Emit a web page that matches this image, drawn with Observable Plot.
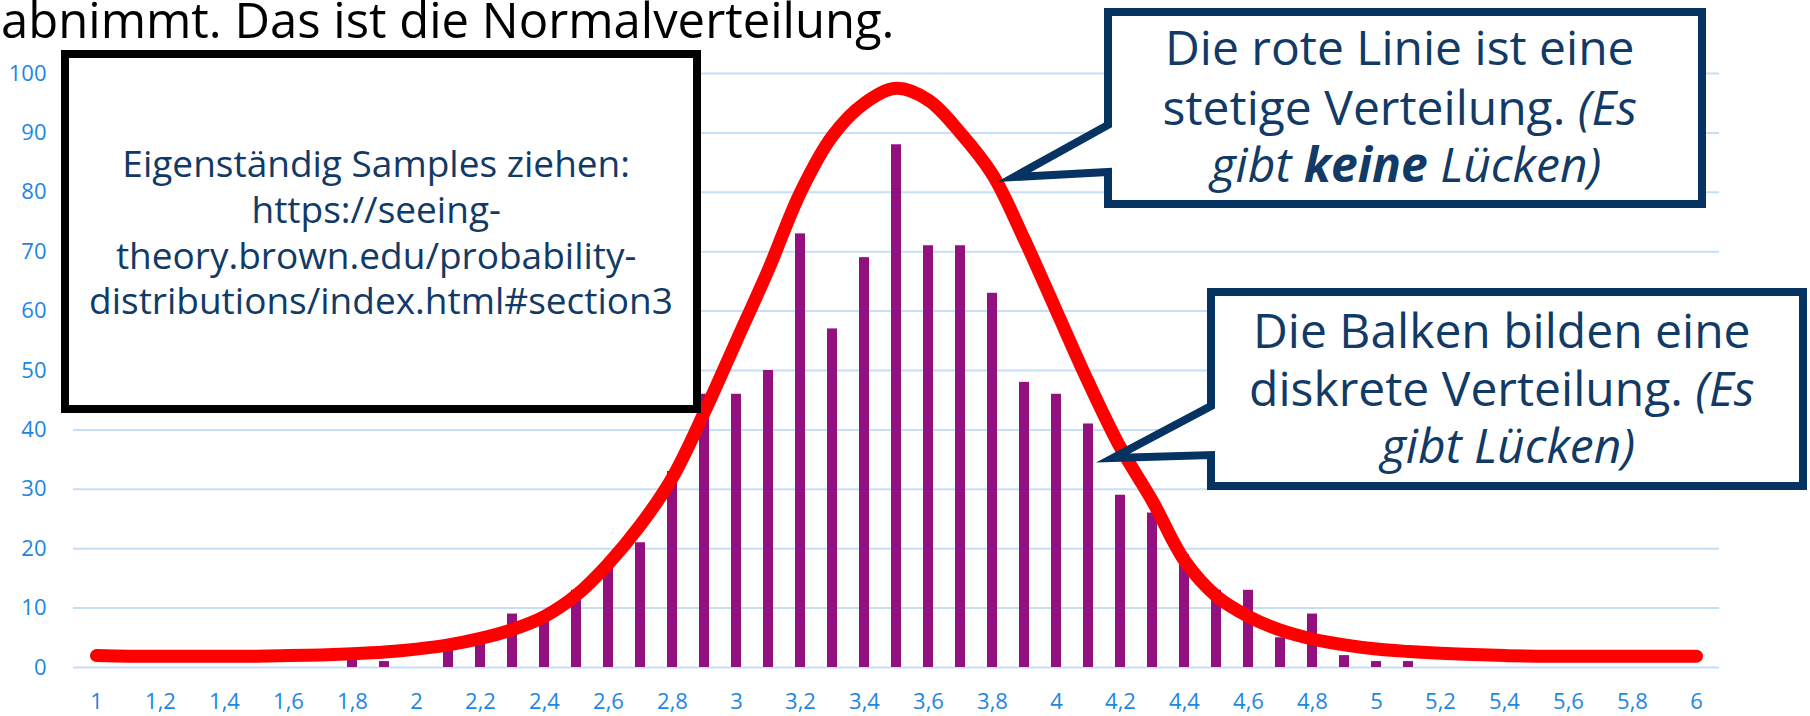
<!DOCTYPE html>
<html>
<head>
<meta charset="utf-8">
<script src="https://cdn.jsdelivr.net/npm/d3@7"></script>
<script src="https://cdn.jsdelivr.net/npm/@observablehq/plot@0.6"></script>
<style>
  html, body { margin: 0; padding: 0; background: #fff; }
  #wrap { position: relative; width: 1810px; height: 716px; overflow: hidden; font-family: "Open Sans", sans-serif; }
  #chart { position: absolute; left: 0; top: 0; }
  #overlay { position: absolute; left: 0; top: 0; pointer-events: none; }
</style>
</head>
<body>
<div id="wrap">
  <div id="chart"></div>
  <svg id="overlay" width="1810" height="716" xmlns="http://www.w3.org/2000/svg" font-family="'Open Sans', sans-serif">
    <text x="1" y="38" font-size="49" fill="#000">abnimmt. Das ist die Normalverteilung.</text>

    <rect x="65" y="54" width="632" height="355" fill="#fff" stroke="#000" stroke-width="8"/>
    <text font-size="37" fill="#113a66" text-anchor="middle">
      <tspan x="381" y="177">Eigenständig Samples ziehen:</tspan>
      <tspan x="381" y="223">https://seeing-</tspan>
      <tspan x="381" y="268.5">theory.brown.edu/probability-</tspan>
      <tspan x="381" y="313.5">distributions/index.html#section3</tspan>
    </text>

    <path d="M1108,12 H1702 V204 H1108 V172 L1014,177 L1108,125 Z" fill="#fff" stroke="#063361" stroke-width="8" stroke-linejoin="miter" stroke-miterlimit="6"/>
    <text font-size="48" fill="#113a66" text-anchor="middle">
      <tspan x="1406" y="65">Die rote Linie ist eine</tspan>
      <tspan x="1406" y="125">stetige Verteilung. <tspan font-style="italic">(Es</tspan></tspan>
      <tspan x="1406" y="182" font-style="italic">gibt <tspan font-weight="bold">keine</tspan> Lücken)</tspan>
    </text>

    <path d="M1211,292 H1803 V486 H1211 V455 L1113,458 L1211,406 Z" fill="#fff" stroke="#063361" stroke-width="8" stroke-linejoin="miter" stroke-miterlimit="6"/>
    <text font-size="48" fill="#113a66" text-anchor="middle">
      <tspan x="1508" y="348">Die Balken bilden eine</tspan>
      <tspan x="1508" y="406">diskrete Verteilung. <tspan font-style="italic">(Es</tspan></tspan>
      <tspan x="1508" y="463" font-style="italic">gibt Lücken)</tspan>
    </text>
  </svg>
</div>
<script>
// Categories on the x axis (one bar slot per 0.1)
const categories = [1, 1.1, 1.2, 1.3, 1.4, 1.5, 1.6, 1.7, 1.8, 1.9,
                    2, 2.1, 2.2, 2.3, 2.4, 2.5, 2.6, 2.7, 2.8, 2.9,
                    3, 3.1, 3.2, 3.3, 3.4, 3.5, 3.6, 3.7, 3.8, 3.9,
                    4, 4.1, 4.2, 4.3, 4.4, 4.5, 4.6, 4.7, 4.8, 4.9,
                    5, 5.1, 5.2, 5.3, 5.4, 5.5, 5.6, 5.7, 5.8, 5.9, 6];

// Bar heights (counts of samples per category)
const counts = [0, 0, 0, 0, 0, 0, 0, 0, 2, 1,
                0, 3, 4, 9, 8, 13, 17, 21, 33, 46,
                46, 50, 73, 57, 69, 88, 71, 71, 63, 48,
                46, 41, 29, 26, 19, 13, 13, 5, 9, 2,
                1, 1, 0, 0, 0, 0, 0, 0, 0, 0, 0];

// Red continuous curve, read at each category
const curveValues = [2.0, 1.9, 1.9, 1.9, 1.9, 1.9, 2.0, 2.1, 2.3, 2.6,
                     3.1, 3.8, 4.9, 6.4, 8.6, 12.2, 17.5, 24.0, 32.0, 43.0,
                     55.0, 67.0, 80.0, 89.5, 95.0, 97.5, 95.5, 90.0, 83.0, 72.0,
                     60.0, 48.0, 37.0, 28.0, 18.0, 12.0, 8.6, 6.3, 4.8, 3.8,
                     3.1, 2.7, 2.4, 2.2, 2.0, 1.9, 1.9, 1.9, 1.9, 1.9, 1.9];

// Axis ticks and labels
const xTickValues = [1, 1.2, 1.4, 1.6, 1.8, 2, 2.2, 2.4, 2.6, 2.8, 3, 3.2, 3.4, 3.6, 3.8,
                     4, 4.2, 4.4, 4.6, 4.8, 5, 5.2, 5.4, 5.6, 5.8, 6];
const xTickLabels = ["1", "1,2", "1,4", "1,6", "1,8", "2", "2,2", "2,4", "2,6", "2,8", "3", "3,2", "3,4", "3,6", "3,8",
                     "4", "4,2", "4,4", "4,6", "4,8", "5", "5,2", "5,4", "5,6", "5,8", "6"];
const yTicks = [0, 10, 20, 30, 40, 50, 60, 70, 80, 90, 100];

const bars = categories.map((x, i) => ({x, count: counts[i]}));
const curve = categories.map((x, i) => ({x, value: curveValues[i]}));

const axisColor = "#1c86e3";

const chart = Plot.plot({
  width: 1810,
  height: 716,
  marginLeft: 73,
  marginRight: 91,
  marginTop: 73,
  marginBottom: 49,
  style: {fontFamily: "'Open Sans', sans-serif", fontSize: "22px", background: "transparent", color: axisColor},
  x: {type: "band", domain: categories, paddingInner: 0.69, paddingOuter: 0.345, label: null},
  y: {domain: [0, 100], label: null},
  marks: [
    Plot.gridY(yTicks, {stroke: "#c6dff6", strokeOpacity: 1, strokeWidth: 2}),
    Plot.axisY(yTicks, {tickSize: 0, tickPadding: 27, label: null, fill: axisColor, fontSize: 22}),
    Plot.axisX(xTickValues, {tickSize: 0, tickPadding: 26, label: null, fill: axisColor, fontSize: 22,
      tickFormat: d => xTickLabels[xTickValues.indexOf(d)]}),
    Plot.barY(bars, {x: "x", y: "count", fill: "#93117e"}),
    Plot.line(curve, {x: "x", y: "value", stroke: "#ff0000", strokeWidth: 13, curve: "catmull-rom",
      strokeLinecap: "round", strokeLinejoin: "round"})
  ]
});
document.getElementById("chart").appendChild(chart);
</script>
</body>
</html>
